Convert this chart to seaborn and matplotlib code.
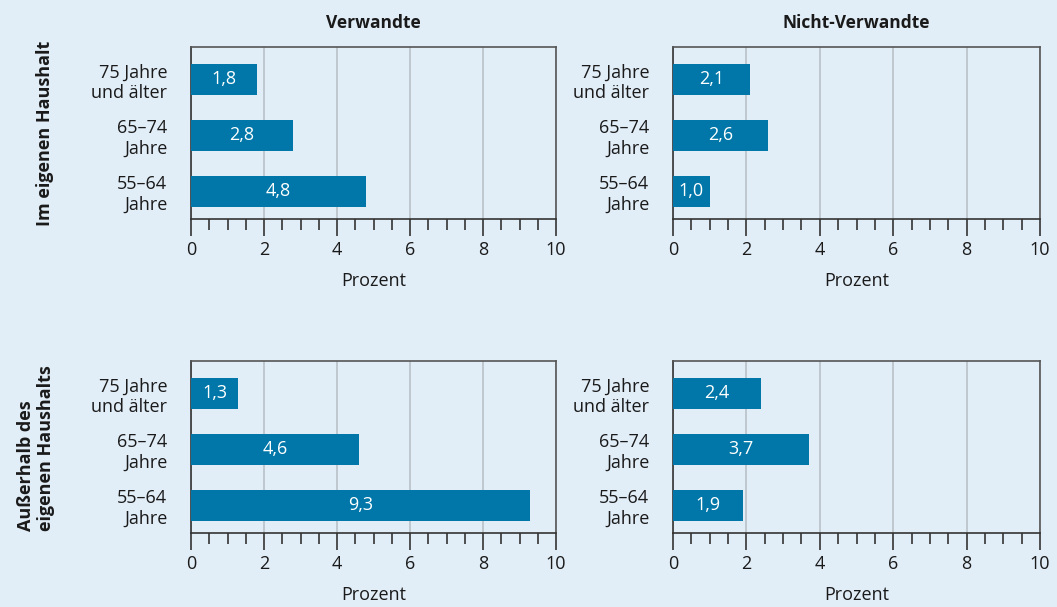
import pandas as pd
import numpy as np
import matplotlib.pyplot as plt
import seaborn as sns
from matplotlib.ticker import MultipleLocator

sns.set_theme(style="white")
plt.rcParams['font.family'] = ['Open Sans', 'DejaVu Sans']

# Daten
altersgruppen = ["75 Jahre\nund älter", "65–74\nJahre", "55–64\nJahre"]
spalten = ["Verwandte", "Nicht-Verwandte"]
zeilen = ["Im eigenen Haushalt", "Außerhalb des\neigenen Haushalts"]
eigen_verwandte = [1.8, 2.8, 4.8]
eigen_nicht_verwandte = [2.1, 2.6, 1.0]
ausser_verwandte = [1.3, 4.6, 9.3]
ausser_nicht_verwandte = [2.4, 3.7, 1.9]

werte = [[eigen_verwandte, eigen_nicht_verwandte],
         [ausser_verwandte, ausser_nicht_verwandte]]

BG = "#e1edf7"
BAR = "#0077a8"
TXT = "#1a1a1a"
FS = 13

fig = plt.figure(figsize=(10.57, 6.07), dpi=100, facecolor=BG)

W, H = 1057, 607
lefts = [191, 673]
breiten = [365, 367]
oben = [47, 361]
hoehe = 172

for r in range(2):
    for c in range(2):
        ax = fig.add_axes([lefts[c] / W, 1 - (oben[r] + hoehe) / H,
                           breiten[c] / W, hoehe / H])
        ax.set_facecolor(BG)
        df = pd.DataFrame({"Alter": altersgruppen, "Prozent": werte[r][c]})
        sns.barplot(data=df, x="Prozent", y="Alter", color=BAR, width=0.55,
                    saturation=1, linewidth=0, ax=ax, zorder=3)
        labels = [f"{v:.1f}".replace(".", ",") for v in werte[r][c]]
        ax.bar_label(ax.containers[0], labels=labels, label_type="center",
                     color="white", fontsize=FS)
        ax.set_xlim(0, 10)
        ax.set_ylim(2.495, -0.58)
        ax.xaxis.set_major_locator(MultipleLocator(2))
        ax.xaxis.set_minor_locator(MultipleLocator(0.5))
        ax.grid(axis="x", which="major", color="#b9c0c7", linewidth=1.2, zorder=0)
        ax.set_axisbelow(True)
        ax.tick_params(axis="x", which="major", direction="out", length=12,
                       width=1.2, color="#333333", labelsize=FS, labelcolor=TXT, pad=4,
                       bottom=True)
        ax.tick_params(axis="x", which="minor", direction="out", length=8,
                       width=1.2, color="#333333", bottom=True)
        ax.tick_params(axis="y", length=0, labelsize=FS, labelcolor=TXT, pad=17)
        for lab in ax.get_yticklabels():
            lab.set_multialignment("right")
            lab.set_linespacing(1.15)
        for s in ax.spines.values():
            s.set_visible(True)
            s.set_color("#555555")
            s.set_linewidth(1.2)
        ax.spines["bottom"].set_color("#333333")
        ax.spines["left"].set_color("#333333")
        ax.set_xlabel("Prozent", fontsize=FS, color=TXT, labelpad=9.5)
        ax.set_ylabel("")
        if r == 0:
            ax.set_title(spalten[c], fontsize=12.5, fontweight="bold", color=TXT, pad=14)

fig.text(45 / W, 1 - 133 / H, zeilen[0], rotation=90, ha="center", va="center",
         fontsize=FS, fontweight="bold", color=TXT)
fig.text(36 / W, 1 - 448 / H, zeilen[1], rotation=90, ha="center", va="center",
         multialignment="left", linespacing=1.1, fontsize=FS, fontweight="bold",
         color=TXT)

fig.savefig("out.png", dpi=100, facecolor=BG)
